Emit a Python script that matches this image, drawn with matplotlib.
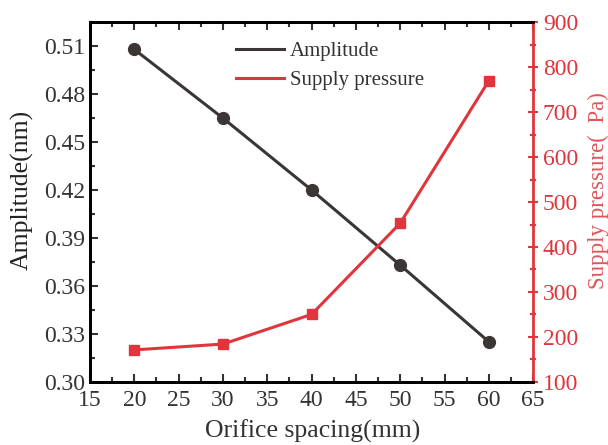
import numpy as np
import matplotlib.pyplot as plt
from matplotlib.ticker import MultipleLocator

plt.rcParams['font.family'] = ['Liberation Serif', 'DejaVu Serif']

spacing = [20, 30, 40, 50, 60]
amplitude = [0.508, 0.465, 0.420, 0.373, 0.325]
pressure = [171, 184, 250, 453, 770]

DARK = '#3b3535'
RED = '#e0353c'

fig = plt.figure(figsize=(6.08, 4.45), dpi=100)
ax = fig.add_axes([0.148, 0.142, 0.729, 0.808])
ax2 = ax.twinx()

l1, = ax.plot(spacing, amplitude, color=DARK, lw=2.2, marker='o', ms=8.5, label='Amplitude')
l2, = ax2.plot(spacing, pressure, color=RED, lw=2.2, marker='s', ms=7.5, label='Supply pressure')

ax.set_xlim(15, 65)
ax.set_ylim(0.30, 0.525)
ax2.set_ylim(100, 900)
ax.xaxis.set_major_locator(MultipleLocator(5))
ax.xaxis.set_minor_locator(MultipleLocator(2.5))
ax.set_yticks(np.arange(0.30, 0.52, 0.03))
ax.yaxis.set_minor_locator(MultipleLocator(0.015))
ax2.yaxis.set_major_locator(MultipleLocator(100))
ax2.yaxis.set_minor_locator(MultipleLocator(50))

ax.tick_params(axis='both', which='both', direction='in', top=True, labelsize=17,
               colors='#333333', width=1.5)
ax.tick_params(axis='both', which='major', length=6)
ax.tick_params(axis='both', which='minor', length=3.5)
ax.tick_params(axis='x', pad=6)
ax.set_yticklabels([f'{v:.2f}' for v in ax.get_yticks()])
ax2.tick_params(axis='y', which='both', direction='inout', colors=RED, labelsize=17, width=1.5)
ax2.tick_params(axis='y', which='major', length=7)
ax2.tick_params(axis='y', which='minor', length=4)

for s in ['left', 'bottom', 'top']:
    ax.spines[s].set_linewidth(2)
    ax2.spines[s].set_linewidth(2)
ax2.spines['right'].set_color(RED)
ax2.spines['right'].set_linewidth(2)
ax.spines['right'].set_visible(False)

ax.set_xlabel('Orifice spacing(mm)', fontsize=18.5, color='#333333')
ax.xaxis.set_label_coords(0.502, -0.104)
ax.set_ylabel('Amplitude(nm)', fontsize=18.5, color='#222222')
ax.yaxis.set_label_coords(-0.127, 0.533)
ax2.set_ylabel('Supply pressure(  Pa)', fontsize=16.5, color='#e0555a')
ax2.yaxis.set_label_coords(1.124, 0.533)

ax.legend(handles=[l1, l2], loc='upper left', bbox_to_anchor=(0.287, 0.998), frameon=False,
          fontsize=15, handlelength=2.3, handletextpad=0.3, labelspacing=0.45,
          labelcolor='#333333')
ax.legend_.legend_handles[0].set_marker('')
ax.legend_.legend_handles[1].set_marker('')

fig.savefig('out.png', dpi=100, facecolor='white')
